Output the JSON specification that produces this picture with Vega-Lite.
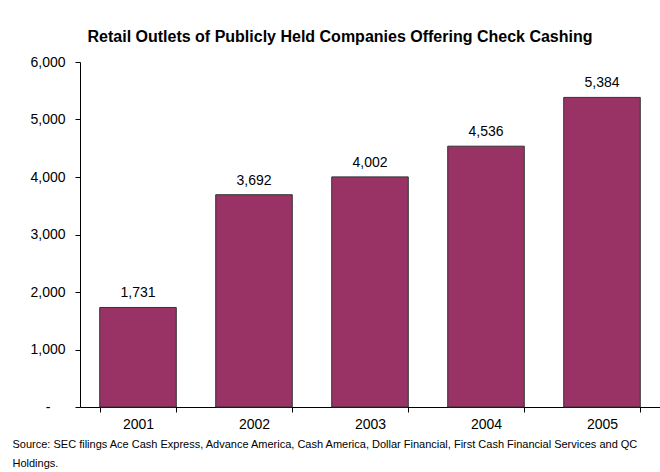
{
  "$schema": "https://vega.github.io/schema/vega-lite/v6.json",
  "autosize": "none",
  "width": 580,
  "height": 345,
  "padding": {"left": 80, "top": 62, "right": 0, "bottom": 65},
  "background": "white",
  "config": {
    "font": "Liberation Sans",
    "view": {"stroke": null},
    "axis": {"grid": false, "domainColor": "black", "tickColor": "black", "labelColor": "black", "titleColor": "black", "labelFont": "Liberation Sans", "titleFont": "Liberation Sans"}
  },
  "title": {
    "text": "Retail Outlets of Publicly Held Companies Offering Check Cashing",
    "font": "Liberation Sans",
    "fontSize": 16,
    "fontWeight": "bold",
    "color": "black",
    "anchor": "middle",
    "baseline": "alphabetic",
    "dx": -30,
    "offset": -3
  },
  "data": {
    "values": [
      {"year": "2001", "outlets": 1731},
      {"year": "2002", "outlets": 3692},
      {"year": "2003", "outlets": 4002},
      {"year": "2004", "outlets": 4536},
      {"year": "2005", "outlets": 5384}
    ]
  },
  "encoding": {
    "x": {
      "field": "year", "type": "ordinal",
      "scale": {"paddingInner": 0.34, "paddingOuter": 0.17},
      "axis": {
        "labelAngle": 0, "labelFontSize": 14, "labelPadding": 5,
        "tickBand": "extent", "tickSize": 5, "domainWidth": 1,
        "title": ["Source: SEC filings Ace Cash Express, Advance America, Cash America, Dollar Financial, First Cash Financial Services and QC", "Holdings."],
        "titleFontSize": 11, "titleFontWeight": "normal",
        "titleAnchor": null, "titleAlign": "left", "titleBaseline": "alphabetic",
        "titleX": -68, "titleY": 40, "titleLineHeight": 19
      }
    },
    "y": {
      "field": "outlets", "type": "quantitative",
      "scale": {"domain": [0, 6000], "nice": false},
      "axis": {
        "values": [0, 1000, 2000, 3000, 4000, 5000, 6000],
        "labelExpr": "datum.value == 0 ? '-' : format(datum.value, ',')",
        "labelPadding": {"condition": {"test": "datum.value == 0", "value": 25}, "value": 10},
        "labelFontSize": 14, "tickSize": 5, "title": null
      }
    }
  },
  "layer": [
    {"mark": {"type": "bar", "color": "#993366", "stroke": "#333333", "strokeWidth": 1}},
    {"mark": {"type": "text", "baseline": "alphabetic", "dy": -10, "fontSize": 14, "color": "black"},
     "encoding": {"text": {"field": "outlets", "type": "quantitative", "format": ","}}}
  ]
}
